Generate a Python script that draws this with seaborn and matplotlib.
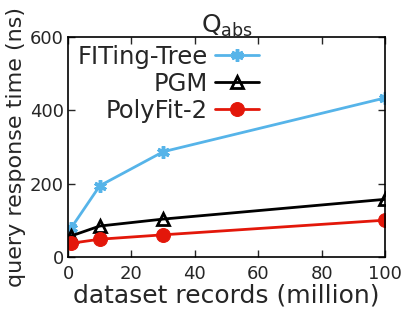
import numpy as np
import pandas as pd
import matplotlib
matplotlib.use('Agg')
import matplotlib.pyplot as plt
import seaborn as sns

# dataset sizes (million records)
records = [1, 10, 30, 100]
fiting_tree = [79, 194, 287, 434]
pgm = [57, 84, 103, 157]
polyfit2 = [37, 48, 60, 100]

x_ticks = [0, 20, 40, 60, 80, 100]
y_ticks = [0, 200, 400, 600]

sns.set_style('ticks')
plt.rcParams['font.family'] = ['DejaVu Sans']
plt.rcParams['xtick.direction'] = 'in'
plt.rcParams['ytick.direction'] = 'in'

fig, ax = plt.subplots(figsize=(4.15, 3.23), dpi=100)

sns.lineplot(x=records, y=fiting_tree, ax=ax, color='#56B4E9', lw=2,
             marker=(6, 2, 0), ms=9, mew=2.5, mec='#56B4E9',
             label='FITing-Tree')
sns.lineplot(x=records, y=pgm, ax=ax, color='black', lw=2,
             marker='^', ms=9, mew=2, mfc='none', mec='black',
             label='PGM')
sns.lineplot(x=records, y=polyfit2, ax=ax, color='#E3170A', lw=2,
             marker='o', ms=10, mec='#E3170A', label='PolyFit-2')

ax.set_xlim(0, 100)
ax.set_ylim(0, 600)
ax.set_xticks(x_ticks)
ax.set_yticks(y_ticks)
ax.tick_params(labelsize=13, top=True, right=True, length=5, width=1)
ax.tick_params(axis='x', pad=6)
ax.tick_params(axis='y', pad=3)
for s in ax.spines.values():
    s.set_linewidth(1.2)
    s.set_color('black')

ax.set_xlabel('dataset records (million)', fontsize=18, labelpad=0)
ax.set_ylabel('query response time (ns)', fontsize=16, labelpad=3)
ax.set_title(r'Q$_{\mathrm{abs}}$', fontsize=18, pad=3)

ax.legend(loc='upper left', frameon=False, markerfirst=False, fontsize=17.5,
          handlelength=1.8, handletextpad=0.3, labelspacing=0.12,
          borderaxespad=0.0, bbox_to_anchor=(0.0, 1.01))

fig.subplots_adjust(left=0.164, right=0.928, top=0.885, bottom=0.205)
fig.savefig('out.png', dpi=100)
